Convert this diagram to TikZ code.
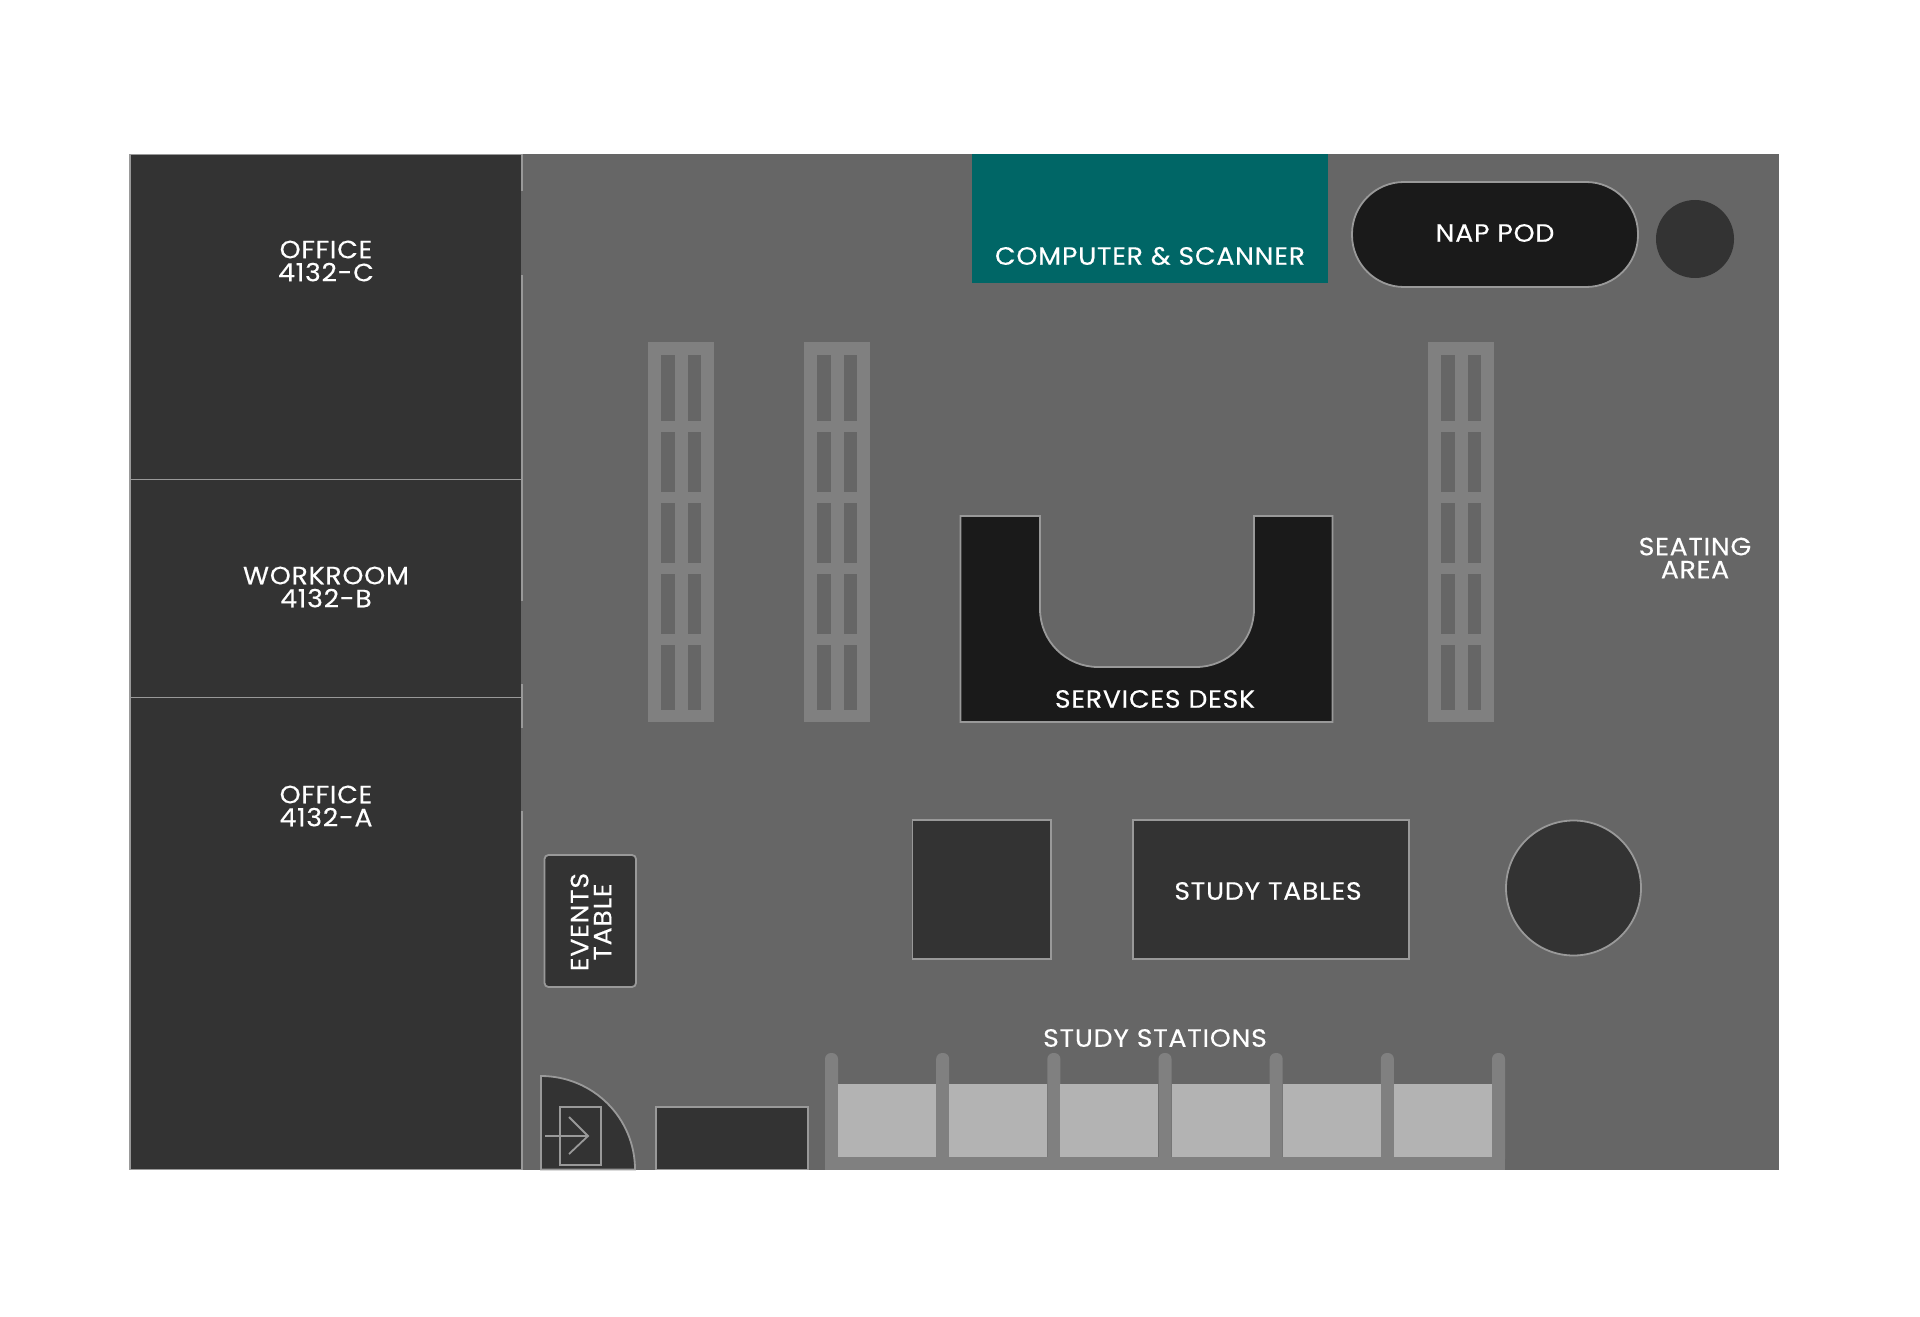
\documentclass[tikz,border=0pt]{standalone}
\usepackage{fontspec}
\setmainfont{Poppins}[FakeStretch=1.07,LetterSpace=3,FakeBold=0.25]
\definecolor{floorc}{HTML}{666666}
\definecolor{roomc}{HTML}{333333}
\definecolor{deskc}{HTML}{1A1A1A}
\definecolor{tealc}{HTML}{006666}
\definecolor{shelfc}{HTML}{808080}
\definecolor{panelc}{HTML}{B3B3B3}
\definecolor{edgec}{HTML}{999999}
\tikzset{
  x=0.5pt,y=-0.5pt,
  room/.style={fill=roomc,draw=edgec,line width=0.9pt},
  blackroom/.style={fill=deskc,draw=edgec,line width=0.9pt},
  wallseg/.style={draw=edgec,line width=1pt},
  thinedge/.style={draw=edgec,line width=0.9pt},
  doorline/.style={draw=edgec,line width=0.9pt},
  lbl/.style={text=white,font=\fontsize{12.5}{11.5}\selectfont,align=center,inner sep=0pt},
}
\newcommand{\shelfunit}[1]{%
  \fill[shelfc] (#1,342) rectangle ++(66,380);
  \foreach \ya/\yb in {355/421,432/492,503/563,574/634,645/710}{
    \fill[floorc] (#1+13,\ya) rectangle (#1+27,\yb);
    \fill[floorc] (#1+40,\ya) rectangle (#1+53,\yb);
  }}
\begin{document}
\begin{tikzpicture}
\useasboundingbox (0,0) rectangle (1920,1316);
\fill[white] (0,0) rectangle (1920,1316);
% floor
\fill[floorc] (129,154) rectangle (1779,1170);
% rooms
\fill[roomc] (130,154) rectangle (521,1170);
\draw[thinedge] (130,1169.5) -- (130,154.5) -- (521,154.5);
\draw[thinedge] (130,1169.5) -- (521,1169.5);
\draw[thinedge] (130,479.5) -- (521,479.5);
\draw[thinedge] (130,697.5) -- (521,697.5);
\draw[wallseg] (521.5,154) -- (521.5,191);
\draw[wallseg] (521.5,275) -- (521.5,601);
\draw[wallseg] (521.5,684) -- (521.5,728);
\draw[wallseg] (521.5,811) -- (521.5,1170);
% teal block
\fill[tealc] (972,154) rectangle (1328,283);
% nap pod
\draw[blackroom,rounded corners=26pt] (1352,182) rectangle (1638,287);
\fill[roomc] (1695,239) circle [radius=39];
% shelves
\shelfunit{648}
\shelfunit{804}
\shelfunit{1428}
% services desk
\draw[blackroom] (960.5,516) -- (1040,516) -- (1040,609)
  .. controls (1040,641) and (1066,667) .. (1098,667) -- (1196,667)
  .. controls (1228,667) and (1254,641) .. (1254,609)
  -- (1254,516) -- (1332.5,516) -- (1332.5,722) -- (960.5,722) -- cycle;
% study tables
\draw[room] (912.5,820) rectangle (1051,959);
\draw[room] (1133,820) rectangle (1409,959);
\draw[room] (1573.5,888) circle [radius=67.5];
% events table
\draw[room,rounded corners=2pt] (544.5,855) rectangle (636,987);
% door
\draw[room] (541,1169.5) -- (541,1076) .. controls (593,1076) and (635,1118) .. (635,1169.5) -- cycle;
\draw[doorline] (560,1107) rectangle (601,1165);
\coordinate (arrowtail) at (545,1136);
\coordinate (arrowtip) at (588,1136);
\coordinate (headup) at (569,1117);
\coordinate (headdown) at (569,1154);
\draw[doorline] (arrowtail) -- (arrowtip);
\draw[doorline] (headup) -- (arrowtip) -- (headdown);
% low cabinet
\draw[room] (656,1107) rectangle (808,1169.5);
% study stations
\fill[shelfc] (825,1157) rectangle (1505,1170);
\foreach \i in {0,...,6}{
  \fill[shelfc,rounded corners=3pt] ({825+111.17*\i},1053) rectangle ({838+111.17*\i},1165);
}
\foreach \i in {0,...,5}{
  \fill[panelc] ({838+111.17*\i},1084) rectangle ({936+111.17*\i},1157);
}
% labels
\node[lbl] (officec) at (326,261) {OFFICE\\4132-C};
\node[lbl] (workroom) at (326,587) {WORKROOM\\4132-B};
\node[lbl] (officea) at (326,806) {OFFICE\\4132-A};
\node[lbl] (computer) at (1150,256) {COMPUTER \& SCANNER};
\node[lbl] (nappod) at (1495,233) {NAP POD};
\node[lbl] (seating) at (1695,558) {SEATING\\AREA};
\node[lbl] (services) at (1155,699) {SERVICES DESK};
\node[lbl] (tables) at (1268,891) {STUDY TABLES};
\node[lbl] (stations) at (1155,1038) {STUDY STATIONS};
\node[lbl,rotate=90] (events) at (591,922) {EVENTS\\TABLE};
\end{tikzpicture}
\end{document}
